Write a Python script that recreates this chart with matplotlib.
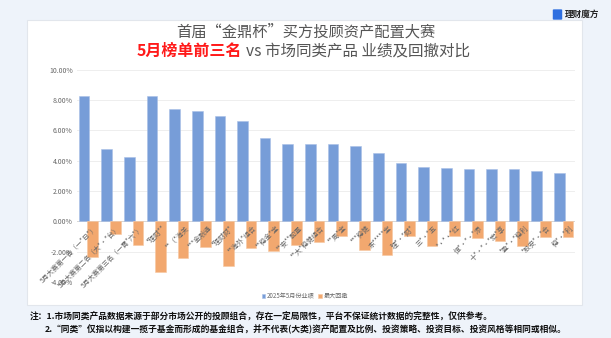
import numpy as np
import matplotlib
matplotlib.use('Agg')
import matplotlib.pyplot as plt
from matplotlib.patches import Rectangle, FancyBboxPatch

plt.rcParams['font.family'] = ['Noto Sans CJK SC', 'DejaVu Sans']

# 数据
labels = ["5月大赛第一名（一*日*）", "5月大赛第二名（大*·*台）", "5月大赛第三名（一霄*六*）",
          "*理财**", "**（*海关", "***金融通", "*理财财*", "**海外*组合", "**稳金*宝",
          "**安**配置", "**大*稳健组合", "**周*宝", "***稳健", "东*****宝", "理*·*财*",
          "三*·*五", "*·*·*红", "恒*·*·*添", "十*·*·*宏*享", "*盈*·*稳利", "*股安*·*合", "稳*·*利"]
perf = [8.27, 4.76, 4.23, 8.27, 7.43, 7.24, 6.91, 6.64, 5.48, 5.11, 5.07,
        5.07, 4.96, 4.50, 3.84, 3.60, 3.51, 3.46, 3.44, 3.42, 3.31, 3.20]
drawdown = [-2.37, -0.86, -1.54, -3.31, -2.43, -1.69, -2.92, -1.78, -1.97, -1.58, -1.34,
            -0.99, -1.91, -2.24, -0.99, -1.64, -0.99, -1.10, -1.29, -1.64, -1.03, -1.05]
yticks = [-4, -2, 0, 2, 4, 6, 8, 10]

blue = '#779dd8'
orange = '#f2a86f'

fig = plt.figure(figsize=(6.11, 3.38), dpi=100)
fig.patch.set_facecolor('#eef3fa')

# 白色面板
fig.patches.append(Rectangle((27 / 611, 1 - 305 / 338), 555 / 611, 285 / 338,
                             transform=fig.transFigure, facecolor='white',
                             edgecolor='#e2e6ec', linewidth=0.8, zorder=-5))

ax = fig.add_axes([77 / 611, 1 - 282 / 338, 498 / 611, (282 - 69.6) / 338])
ax.set_zorder(5)
ax.patch.set_alpha(0)
x = np.arange(len(labels))
w = 0.47
ax.bar(x - 0.19, perf, w, color=blue, edgecolor='#a9c0e6', linewidth=0.4,
       label='2025年5月份业绩', zorder=2)
ax.bar(x + 0.19, drawdown, w, color=orange, edgecolor='#f7c8a2', linewidth=0.4,
       label='最大回撤', zorder=2)

# 网格线放在柱子下面，刻度文字在柱子上面
for v in yticks:
    ax.axhline(v, color='#d6d6d6' if v == 0 else '#eeeeee', linewidth=0.7, zorder=0)

ax.set_xlim(-0.5, len(labels) - 0.5)
ax.set_ylim(-4, 10)
ax.set_yticks(yticks)
ax.set_yticklabels([f'{v:.2f}%' for v in yticks], fontsize=5, color='#666666')
for s in ['top', 'right', 'left', 'bottom']:
    ax.spines[s].set_visible(False)
ax.spines['bottom'].set_position(('data', 0))
ax.set_axisbelow(False)
ax.tick_params(axis='both', length=0)
ax.tick_params(axis='y', pad=3)
ax.set_xticks(x + 0.25)
ax.set_xticklabels(labels, rotation=45, ha='right', rotation_mode='anchor',
                   fontsize=4.9, color='#666666')
ax.tick_params(axis='x', pad=2)

ax.legend(loc='center', bbox_to_anchor=(305 / 611, 1 - 296 / 338),
          bbox_transform=fig.transFigure, ncol=2, frameon=False,
          fontsize=4.4, handlelength=0.6, handleheight=0.6, handletextpad=0.3,
          columnspacing=0.6, labelcolor='#666666')

# 标题
fig.text(0.5, 1 - 32 / 338, '首届“金鼎杯”买方投顾资产配置大赛', ha='center', va='center',
         fontsize=11, color='#555555')
fig.text(242 / 611, 1 - 51 / 338, '5月榜单前三名', ha='right', va='center',
         fontsize=11.5, color='#ff1a1a', fontweight='bold')
fig.text(246 / 611, 1 - 51 / 338, 'vs 市场同类产品 业绩及回撤对比', ha='left', va='center',
         fontsize=11.2, color='#555555')

# logo
fig.patches.append(FancyBboxPatch((554 / 611, 1 - 19 / 338), 7 / 611, 9 / 338,
                                  boxstyle='round,pad=0.002', transform=fig.transFigure,
                                  facecolor='#2f6fe0', edgecolor='none'))
fig.text(565 / 611, 1 - 14.5 / 338, '理财魔方', ha='left', va='center',
         fontsize=6.2, color='#222222', fontweight='bold')

# 注释
fig.text(30 / 611, 1 - 316 / 338,
         '注：1.市场同类产品数据来源于部分市场公开的投顾组合，存在一定局限性，平台不保证统计数据的完整性，仅供参考。',
         ha='left', va='center', fontsize=6.3, color='#111111', fontweight='bold')
fig.text(45 / 611, 1 - 329 / 338,
         '2.“同类”仅指以构建一揽子基金而形成的基金组合，并不代表(大类)资产配置及比例、投资策略、投资目标、投资风格等相同或相似。',
         ha='left', va='center', fontsize=6.3, color='#111111', fontweight='bold')

fig.savefig('out.png', dpi=100, facecolor=fig.get_facecolor())
